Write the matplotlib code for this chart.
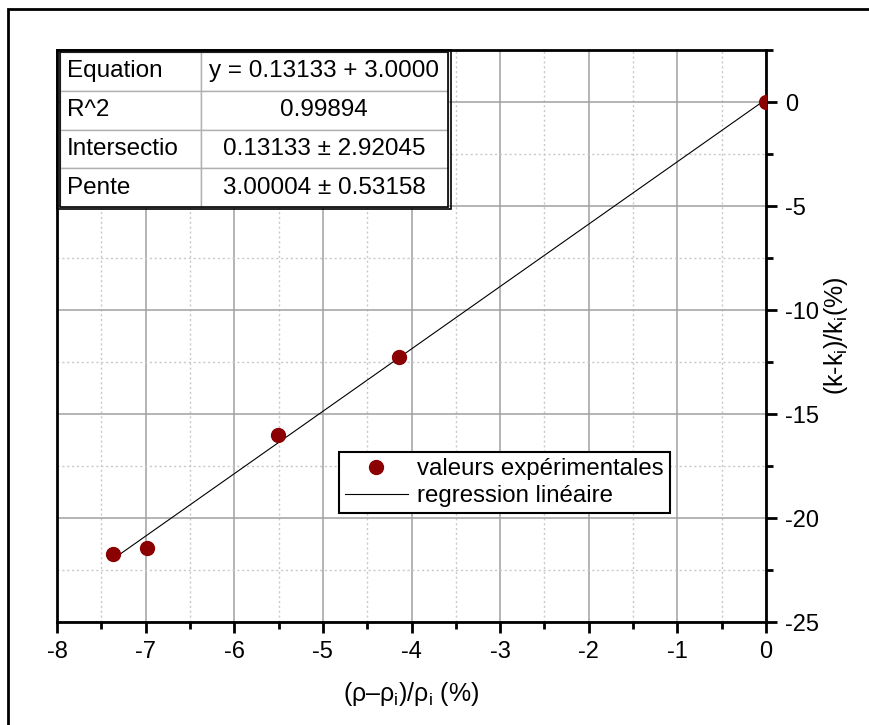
import matplotlib
matplotlib.use("Agg")
import matplotlib.pyplot as plt
from matplotlib.patches import Rectangle
from matplotlib.ticker import MultipleLocator
import numpy as np

plt.rcParams['font.family'] = ['Liberation Sans', 'DejaVu Sans']
plt.rcParams['mathtext.fontset'] = 'custom'
plt.rcParams['mathtext.rm'] = 'Liberation Sans'
plt.rcParams['mathtext.it'] = 'Liberation Sans:italic'
plt.rcParams['axes.unicode_minus'] = False

# data
x_vals = [-7.37, -6.98, -5.51, -4.14, 0.0]
y_vals = [-21.74, -21.45, -16.03, -12.24, 0.0]
intercept = 0.13133
slope = 3.00004

table_rows = [["Equation", "y = 0.13133 + 3.0000"],
              ["R^2", "0.99894"],
              ["Intersectio", "0.13133 \u00b1 2.92045"],
              ["Pente", "3.00004 \u00b1 0.53158"]]

fig = plt.figure(figsize=(8.7, 7.25), dpi=100)
ax = fig.add_axes([0.0655, 0.142, 0.815, 0.789])

# outer border of the figure (cut at right and bottom)
fig.patches.append(Rectangle((0.0092, -0.2), 2, 0.9876 + 0.2, transform=fig.transFigure,
                             fill=False, edgecolor='black', linewidth=2))

# grid
ax.xaxis.set_major_locator(MultipleLocator(1))
ax.xaxis.set_minor_locator(MultipleLocator(0.5))
ax.yaxis.set_major_locator(MultipleLocator(5))
ax.yaxis.set_minor_locator(MultipleLocator(2.5))
ax.grid(which='major', color='#a0a0a0', linewidth=1.1)
ax.grid(which='minor', color='#c8c8c8', linestyle=(0, (1.5, 2)), linewidth=1)
ax.set_axisbelow(True)

ax.plot(x_vals, y_vals, 'o', color='#8b0000', markersize=10, label='valeurs exp\u00e9rimentales', zorder=3)
xl = np.array([min(x_vals), max(x_vals)])
ax.plot(xl, intercept + slope * xl, color='black', linewidth=0.8, label='regression lin\u00e9aire', zorder=2)

ax.set_xlim(-8, 0)
ax.set_ylim(-25, 2.5)

for s in ax.spines.values():
    s.set_linewidth(2)
ax.yaxis.tick_right()
ax.yaxis.set_label_position('right')
ax.tick_params(which='major', direction='out', length=8, width=2, labelsize=17, pad=6)
ax.tick_params(which='minor', direction='out', length=5, width=2)
ax.tick_params(axis='y', which='both', left=False, right=True)

ax.set_xlabel('(\u03c1\u2013\u03c1$_\\mathrm{i}$)/\u03c1$_\\mathrm{i}$ (%)', fontsize=18, labelpad=12)
ax.set_ylabel(r'(k-k$_\mathrm{i}$)/k$_\mathrm{i}$(%)', fontsize=18, labelpad=2)

leg = ax.legend(loc='upper left', bbox_to_anchor=(0.398, 0.297), borderaxespad=0,
                fancybox=False, edgecolor='black', fontsize=17.3, handlelength=2.6,
                handletextpad=0.4, borderpad=0.25, labelspacing=0.2, framealpha=1)
leg.get_frame().set_linewidth(1.5)

# fit results table
tb = ax.table(cellText=table_rows, colWidths=[0.363, 0.637],
              bbox=[0.004, 0.7255, 0.547, 0.271], zorder=5)
tb.auto_set_font_size(False)
for (r, c), cell in tb.get_celld().items():
    cell.set_edgecolor('#b0b0b0')
    cell.set_linewidth(1)
    cell.set_facecolor('white')
    cell.get_text().set_fontsize(17.5)
    if c == 0:
        cell.get_text().set_ha('left')
        cell.PAD = 0.05
    else:
        cell.get_text().set_ha('center')
ax.add_patch(Rectangle((0.004, 0.7255), 0.547, 0.271, transform=ax.transAxes,
                       fill=False, edgecolor='black', linewidth=1.2, zorder=6))
ax.add_patch(Rectangle((0.0, 0.7215), 0.555, 0.2785, transform=ax.transAxes,
                       fill=False, edgecolor='black', linewidth=1.2, zorder=6, clip_on=False))

fig.savefig('out.png', dpi=100)
